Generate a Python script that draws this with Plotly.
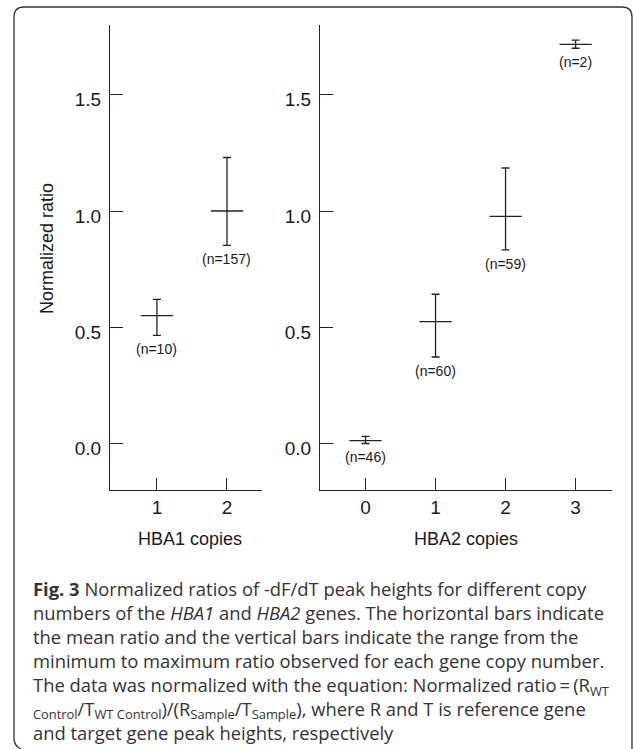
import plotly.graph_objects as go

# ---------------- data ----------------
hba1_copies = [1, 2]
hba1_mean = [0.55, 1.00]
hba1_min = [0.465, 0.852]
hba1_max = [0.620, 1.230]
hba1_n = ["(n=10)", "(n=157)"]

hba2_copies = [0, 1, 2, 3]
hba2_mean = [0.012, 0.524, 0.977, 1.717]
hba2_min = [0.000, 0.372, 0.833, 1.700]
hba2_max = [0.031, 0.642, 1.185, 1.735]
hba2_n = ["(n=46)", "(n=60)", "(n=59)", "(n=2)"]

y_ticks = [0.0, 0.5, 1.0, 1.5]
y_ticktext = ["0.0", "0.5", "1.0", "1.5"]
hba1_ticks = [1, 2]
hba2_ticks = [0, 1, 2, 3]

caption_lines = [
    "<b>Fig. 3</b> Normalized ratios of -dF/dT peak heights for different copy",
    "numbers of the <i>HBA1</i> and <i>HBA2</i> genes. The horizontal bars indicate",
    "the mean ratio and the vertical bars indicate the range from the",
    "minimum to maximum ratio observed for each gene copy number.",
    "The data was normalized with the equation: Normalized ratio\u2009=\u2009(R<sub>WT</sub>",
    "<sub>Control</sub>/T<sub>WT Control</sub>)/(R<sub>Sample</sub>/T<sub>Sample</sub>), where R and T is reference gene",
    "and target gene peak heights, respectively",
]

W, H = 633, 749


def px(x):
    return x / W


def py(y):
    return 1 - y / H


AX_FONT = dict(family="Liberation Sans, Arial, sans-serif", size=19, color="#1a1a1a")
TITLE_FONT = dict(family="Liberation Sans, Arial, sans-serif", size=18, color="#1a1a1a")
N_FONT = dict(family="Liberation Sans, Arial, sans-serif", size=14, color="#1a1a1a")
CAP_FONT = dict(family="Open Sans, sans-serif", size=18.4, color="#333333")
LINE_C = "#222222"

fig = go.Figure()


def add_series(xs, means, lows, highs, xa, ya):
    fig.add_trace(go.Scatter(
        x=xs, y=means, mode="markers", xaxis=xa, yaxis=ya,
        marker=dict(symbol="line-ew", size=23, color=LINE_C,
                    line=dict(width=1.3, color=LINE_C)),
        error_y=dict(type="data", symmetric=False,
                     array=[h - m for h, m in zip(highs, means)],
                     arrayminus=[m - l for m, l in zip(means, lows)],
                     width=4, thickness=1.3, color=LINE_C),
        showlegend=False, hoverinfo="skip",
    ))


add_series(hba1_copies, hba1_mean, hba1_min, hba1_max, "x", "y")
add_series(hba2_copies, hba2_mean, hba2_min, hba2_max, "x2", "y2")

annotations = []
for xv, lo, t in zip(hba1_copies, hba1_min, hba1_n):
    annotations.append(dict(x=xv, y=lo, xref="x", yref="y", text=t, showarrow=False,
                            yanchor="top", yshift=-4, font=N_FONT))
for xv, lo, t in zip(hba2_copies, hba2_min, hba2_n):
    annotations.append(dict(x=xv, y=lo, xref="x2", yref="y2", text=t, showarrow=False,
                            yanchor="top", yshift=-4, font=N_FONT))

# axis titles
annotations.append(dict(x=px(190), y=py(539), xref="paper", yref="paper", text="HBA1 copies",
                        showarrow=False, font=TITLE_FONT, xanchor="center", yanchor="middle"))
annotations.append(dict(x=px(466), y=py(539), xref="paper", yref="paper", text="HBA2 copies",
                        showarrow=False, font=TITLE_FONT, xanchor="center", yanchor="middle"))
annotations.append(dict(x=px(47), y=py(248), xref="paper", yref="paper", text="Normalized ratio",
                        showarrow=False, font=TITLE_FONT, textangle=-90,
                        xanchor="center", yanchor="middle"))

# caption (one block, plotly line spacing 1.3em)
annotations.append(dict(x=px(31), y=py(660), xref="paper", yref="paper",
                        text="<br>".join(caption_lines), showarrow=False, font=CAP_FONT,
                        xanchor="left", yanchor="middle", align="left"))

y_common = dict(range=[-0.2, 1.8], tickvals=y_ticks, ticktext=y_ticktext,
                ticks="inside", ticklen=13, tickwidth=1.3, tickcolor=LINE_C,
                showline=True, linecolor=LINE_C, linewidth=1.3, showgrid=False,
                zeroline=False, tickfont=AX_FONT, ticklabelshift=5,
                ticklabelstandoff=4,
                domain=[py(490), py(25)])
x_common = dict(ticks="inside", ticklen=12, tickwidth=1.3, tickcolor=LINE_C,
                showline=True, linecolor=LINE_C, linewidth=1.3, showgrid=False,
                zeroline=False, tickfont=AX_FONT, ticklabelstandoff=0)

border = (f"M {px(21)} {py(749)} Q {px(14)} {py(746)} {px(14)} {py(738)} "
          f"L {px(14)} {py(17)} Q {px(14)} {py(7)} {px(24)} {py(7)} "
          f"L {px(622)} {py(7)} Q {px(632)} {py(7)} {px(632)} {py(17)} L {px(632)} {py(749)}")

fig.update_layout(
    width=W, height=H,
    margin=dict(l=0, r=0, t=0, b=0),
    paper_bgcolor="white", plot_bgcolor="white",
    xaxis=dict(domain=[px(110), px(262)], range=[0.33, 2.5], tickvals=hba1_ticks,
               anchor="y", **x_common),
    yaxis=dict(anchor="x", **y_common),
    xaxis2=dict(domain=[px(320), px(612)], range=[-0.65, 3.52], tickvals=hba2_ticks,
                anchor="y2", **x_common),
    yaxis2=dict(anchor="x2", **y_common),
    annotations=annotations,
    shapes=[dict(type="path", path=border, xref="paper", yref="paper",
                 line=dict(color="#333333", width=1.3))],
)

fig.write_html("out.html")
